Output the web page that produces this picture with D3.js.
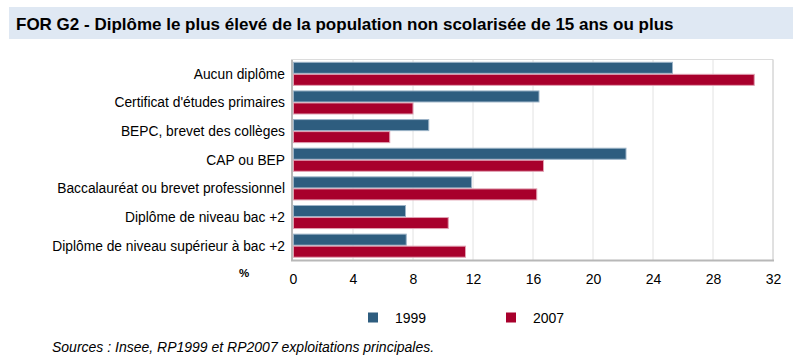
<!DOCTYPE html>
<html><head><meta charset="utf-8">
<script src="https://cdn.jsdelivr.net/npm/d3@7"></script>
<style>
body{margin:0;background:#fff;}
svg{display:block;font-family:"Liberation Sans",Arial,sans-serif;}
</style></head>
<body><svg id="c" width="793" height="364"></svg>
<script>
const categories = ["Aucun diplôme","Certificat d'études primaires","BEPC, brevet des collèges","CAP ou BEP","Baccalauréat ou brevet professionnel","Diplôme de niveau bac +2","Diplôme de niveau supérieur à bac +2"];
const series = ["1999","2007"];
const values1999 = [25.3, 16.4, 9.05, 22.2, 11.9, 7.5, 7.55];
const values2007 = [30.75, 8.0, 6.45, 16.7, 16.25, 10.35, 11.5];
const xTicks = [0,4,8,12,16,20,24,28,32];
const colors = ["#2e5d7f","#a8002c"];
const strokes = ["#9bb3c7","#e0a0b2"];

const svg = d3.select("#c");
// title band
svg.append("rect").attr("x",9).attr("y",7).attr("width",784).attr("height",32).attr("fill","#dfe8f3");
svg.append("text").attr("x",16).attr("y",29.5).attr("font-size",17).attr("font-weight","bold").attr("fill","#000")
  .text("FOR G2 - Diplôme le plus élevé de la population non scolarisée de 15 ans ou plus");

const pLeft=293, pRight=773, pTop=59.5, pBottom=260;
const x = d3.scaleLinear().domain([0,32]).range([pLeft,pRight]);
const y = d3.scaleBand().domain(categories).range([pTop,pBottom]).paddingInner(0.16).paddingOuter(0.08);
const ys = d3.scaleBand().domain(series).range([0,y.bandwidth()]);

// gridlines
svg.append("g").selectAll("line").data(xTicks.slice(1)).join("line")
  .attr("x1",d=>x(d)).attr("x2",d=>x(d)).attr("y1",pTop).attr("y2",pBottom)
  .attr("stroke","#e2e2e2").attr("stroke-width",1);
// frame top/right
svg.append("line").attr("x1",pLeft).attr("x2",pRight).attr("y1",pTop).attr("y2",pTop).attr("stroke","#dcdcdc");
svg.append("line").attr("x1",pRight).attr("x2",pRight).attr("y1",pTop).attr("y2",pBottom).attr("stroke","#d0d0d0");

const data = [values1999, values2007];
series.forEach((s,si)=>{
  svg.append("g").selectAll("rect").data(categories).join("rect")
    .attr("x",x(0)+0.5)
    .attr("y",(c)=>y(c)+ys(s)+0.5)
    .attr("width",(c,i)=>x(data[si][i])-x(0)-0.5)
    .attr("height",ys.bandwidth()-1)
    .attr("fill",colors[si]).attr("stroke",strokes[si]).attr("stroke-width",1);
});

// axes lines
svg.append("line").attr("x1",pLeft-1).attr("x2",pLeft-1).attr("y1",pTop).attr("y2",pBottom+1).attr("stroke","#b8b8b8").attr("stroke-width",2);
svg.append("line").attr("x1",pLeft-2).attr("x2",pRight+1).attr("y1",pBottom+0.5).attr("y2",pBottom+0.5).attr("stroke","#b8b8b8").attr("stroke-width",2);

// category labels
svg.append("g").selectAll("text").data(categories).join("text")
  .attr("x",285).attr("y",c=>y(c)+y.bandwidth()/2).attr("dy","0.35em")
  .attr("text-anchor","end").attr("font-size",13.8).attr("fill","#000").text(c=>c);

// x tick labels
const xa = d3.axisBottom(x).tickValues(xTicks).tickSize(0).tickPadding(0);
const gx = svg.append("g").attr("transform",`translate(0,${pBottom})`).call(xa);
gx.select(".domain").remove();
gx.selectAll("text").attr("font-size",14).attr("font-family","'Liberation Sans',Arial,sans-serif").attr("fill","#000").attr("y",19).attr("dy","0.35em");
svg.append("text").attr("x",244).attr("y",273).attr("dy","0.35em").attr("text-anchor","middle").attr("font-size",11.5).attr("font-weight","bold").text("%");

// legend
const lx = [368,506];
series.forEach((s,i)=>{
  svg.append("rect").attr("x",lx[i]).attr("y",312.5).attr("width",10).attr("height",10).attr("fill",colors[i]);
  svg.append("text").attr("x",lx[i]+27).attr("y",318.5).attr("dy","0.35em").attr("font-size",14).text(s);
});

svg.append("text").attr("x",52).attr("y",347).attr("dy","0.35em").attr("font-size",14).attr("font-style","italic")
  .text("Sources : Insee, RP1999 et RP2007 exploitations principales.");
</script></body></html>
